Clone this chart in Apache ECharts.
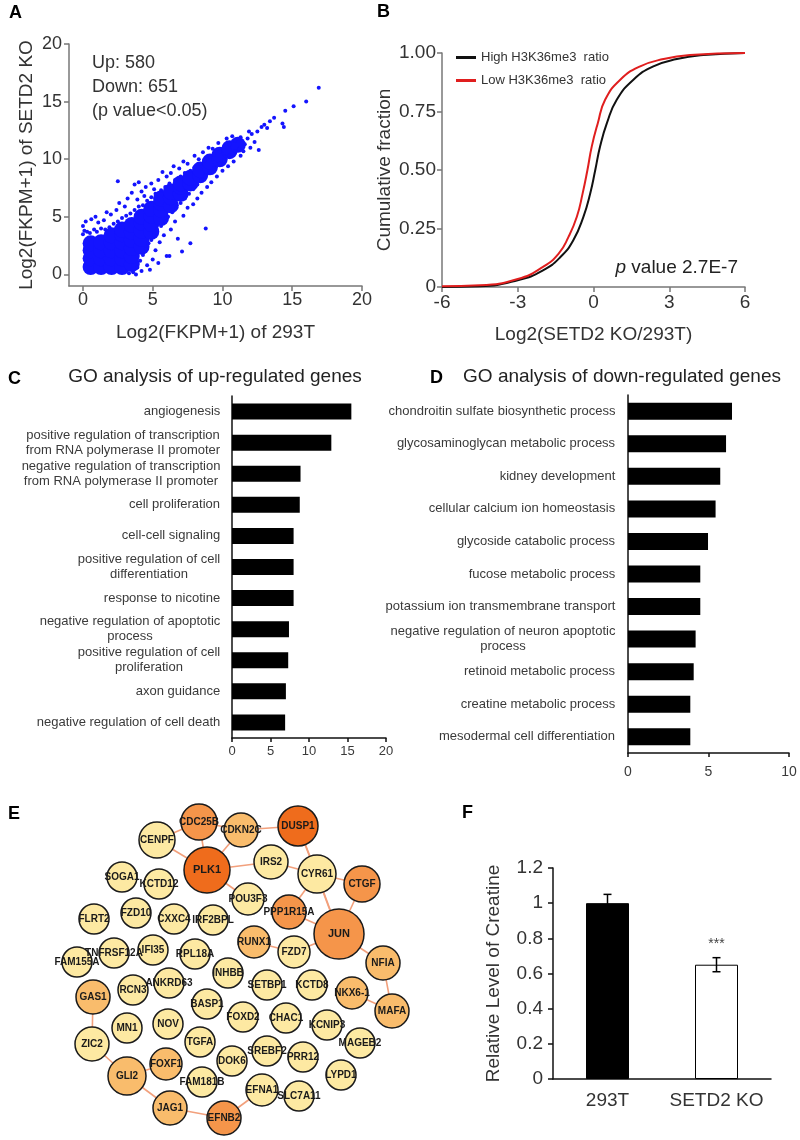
<!DOCTYPE html>
<html><head><meta charset="utf-8">
<script src="https://cdn.jsdelivr.net/npm/echarts@6/dist/echarts.min.js"></script>
<style>html,body{margin:0;padding:0;background:#fff}#c{width:800px;height:1140px}</style>
</head><body><div id="c"></div>
<script>
// ---------- Panel A: scatter ----------
const aTicks = [0, 5, 10, 15, 20];
const denseCore = [
  [0.55,0.65],[0.55,1.4],[0.55,2.1],[0.55,2.7],
  [1.3,0.65],[1.3,1.4],[1.3,2.1],[1.3,2.8],
  [2.05,0.65],[2.05,1.4],[2.05,2.1],[2.05,2.8],[2.05,3.4],
  [2.8,0.65],[2.8,1.4],[2.8,2.1],[2.8,2.8],[2.8,3.5],[2.8,3.9],
  [3.5,0.9],[3.5,1.6],[3.5,2.3],[3.5,3.0],[3.5,3.7],[3.5,4.3],
  [4.2,2.4],[4.2,3.1],[4.2,3.8],[4.2,4.5],[4.2,5.0],
  [4.9,3.7],[4.9,4.4],[4.9,5.1],[4.9,5.7],
  [5.6,4.9],[5.6,5.6],[5.6,6.2],[5.6,6.6],
  [6.3,6.0],[6.3,6.7],[6.3,7.2],
  [7.0,7.0],[7.0,7.6],[7.0,7.9],
  [7.7,7.9],[7.7,8.4],
  [8.4,8.6],[8.4,9.1],
  [9.1,9.3],[9.1,9.8],
  [9.8,10.0],[9.8,10.4],
  [10.5,10.7],[10.5,10.95],
  [11.1,11.25]
];
const sparsePoints = [
  [0.0,3.5],[0.1,3.8],[0.0,4.2],[0.3,3.7],[0.5,3.6],[0.8,3.9],[1.0,3.7],[1.3,4.0],[1.6,3.9],[1.9,4.1],
  [2.2,4.4],[2.5,4.6],[2.8,4.9],[3.1,5.1],[3.4,5.3],[3.7,5.6],[4.0,5.9],[4.3,6.0],[4.6,6.4],[4.9,6.7],
  [5.2,7.0],[5.6,7.3],[5.9,7.6],[6.2,7.9],[6.6,8.2],[7.0,8.5],[7.3,8.8],[7.7,9.0],[8.0,9.3],[8.4,9.6],
  [8.7,9.9],[9.1,10.2],[9.4,10.4],[9.8,10.7],[10.1,11.0],[10.5,11.3],[10.9,11.6],
  [0.2,4.6],[0.6,4.8],[1.1,4.5],[1.5,4.7],[2.0,5.2],[2.4,5.6],[2.6,6.2],[2.5,8.1],[3.0,5.9],[3.2,6.6],
  [3.5,7.1],[3.9,6.5],[4.2,7.2],[4.5,7.6],[4.4,6.8],[4.9,7.9],[5.1,7.4],[5.4,8.2],[5.7,8.9],[6.0,8.5],
  [6.3,8.8],[6.5,9.4],[6.9,9.2],[7.2,9.8],[7.5,9.6],[8.0,10.3],[8.3,10.0],[8.6,10.6],[9.0,11.0],[9.3,10.9],
  [9.7,11.4],[10.3,11.8],[10.7,12.0],[3.7,7.8],[4.0,8.0],[1.7,5.4],[0.9,5.0],
  [3.3,0.1],[3.6,0.2],[3.9,0.6],[4.1,1.2],[4.3,1.7],[4.5,2.2],[4.7,2.7],[4.9,3.0],[5.1,3.4],[5.3,3.9],
  [5.6,4.2],[5.9,4.6],[6.1,5.0],[6.4,5.4],[6.7,5.8],[7.0,6.2],[7.3,6.6],[7.6,7.0],[7.9,7.4],[8.2,7.8],
  [8.5,8.2],[8.8,8.6],[9.1,8.9],[9.4,9.2],[9.8,9.6],[10.1,9.9],[10.5,10.3],[10.9,10.7],[11.2,10.9],
  [3.8,0.0],[4.2,0.3],[4.6,0.8],[5.0,1.3],[5.2,2.1],[5.5,2.8],[5.8,3.4],[6.0,1.6],[6.2,1.6],[6.3,3.9],
  [6.6,4.6],[6.8,3.1],[7.1,2.0],[7.2,5.1],[7.5,5.8],[7.7,2.7],[7.9,6.1],[8.2,6.6],[8.5,7.1],[8.8,4.0],
  [8.9,7.6],[9.2,8.0],[9.6,8.5],[10.0,9.0],[10.4,9.4],[10.8,9.8],[11.3,10.3],[5.4,1.0],[4.8,0.4],
  [11.3,11.9],[11.6,11.3],[11.8,11.8],[12.1,12.2],[12.3,11.5],[12.5,12.4],[12.0,11.0],[12.6,10.8],[12.8,12.8],
  [13.0,13.0],[13.2,12.7],[13.4,13.3],[13.7,13.6],[14.3,13.1],[14.4,12.8],[14.5,14.2],[15.1,14.6],[16.0,15.0],
  [16.9,16.2],[11.5,10.7],[11.9,12.4]
];
const aNote = ['Up: 580', 'Down: 651', '(p value<0.05)'];

// ---------- Panel B: cumulative distributions ----------
const cdfHighX = [-6,-4.5,-3.0,-2.0,-1.3,-0.8,-0.4,-0.13,0.07,0.26,0.53,0.92,1.58,2.37,3.3,4.35,6];
const cdfHighY = [0,0.003,0.029,0.071,0.129,0.2,0.3,0.4,0.5,0.6,0.7,0.8,0.886,0.943,0.974,0.991,1.0];
const cdfLowX  = [-6,-4.5,-3.0,-2.0,-1.38,-0.99,-0.66,-0.43,-0.24,-0.07,0.17,0.46,1.06,1.85,2.77,3.82,6];
const cdfLowY  = [0.003,0.007,0.034,0.086,0.143,0.214,0.3,0.4,0.5,0.6,0.7,0.8,0.886,0.943,0.974,0.991,1.0];
const bNames = ['High H3K36me3  ratio', 'Low H3K36me3  ratio'];

// ---------- Panel C / D: GO terms ----------
const goUpTerms = [
  'angiogenesis',
  'positive regulation of transcription\nfrom RNA polymerase II promoter',
  'negative regulation of transcription\nfrom RNA polymerase II promoter',
  'cell proliferation',
  'cell-cell signaling',
  'positive regulation of cell\ndifferentiation',
  'response to nicotine',
  'negative regulation of apoptotic\nprocess',
  'positive regulation of cell\nproliferation',
  'axon guidance',
  'negative regulation of cell death'
];
const goUpValues = [15.5, 12.9, 8.9, 8.8, 8.0, 8.0, 8.0, 7.4, 7.3, 7.0, 6.9];
const goDownTerms = [
  'chondroitin sulfate biosynthetic process',
  'glycosaminoglycan metabolic process',
  'kidney development',
  'cellular calcium ion homeostasis',
  'glycoside catabolic process',
  'fucose metabolic process',
  'potassium ion transmembrane transport',
  'negative regulation of neuron apoptotic\nprocess',
  'retinoid metabolic process',
  'creatine metabolic process',
  'mesodermal cell differentiation'
];
const goDownValues = [6.46, 6.09, 5.73, 5.44, 4.97, 4.49, 4.49, 4.20, 4.08, 3.87, 3.87];

// ---------- Panel E: gene network ----------
const geneNames = ['CDC25B','CDKN2C','CENPF','PLK1','IRS2','DUSP1','CYR61','CTGF','SOGA1','KCTD12',
  'POU3F3','PPP1R15A','JUN','FLRT2','FZD10','CXXC4','IRF2BPL','RUNX1','FZD7','NFIA',
  'FAM155A','TNFRSF12A','IFI35','RPL18A','INHBB','SETBP1','KCTD8','NKX6-1','MAFA','GAS1',
  'RCN3','ANKRD63','BASP1','FOXD2','CHAC1','KCNIP3','MN1','NOV','ZIC2','TGFA',
  'SREBF2','PRR12','MAGEB2','DOK6','FOXF1','GLI2','FAM181B','LYPD1','EFNA1','SLC7A11','JAG1','EFNB2'];
const geneX = [139,181,97,147,211,238,257,302,62,99, 188,229,279,34,76,114,153,194,234,323,
  17,54,93,135,168,207,252,292,332,33, 73,109,147,183,226,267,67,108,32,140,
  207,243,300,172,106,67,142,281,202,239,110,164];
const geneY = [22,30,40,70,62,26,74,84,77,84, 99,112,134,119,113,119,120,142,152,163,
  162,153,150,154,173,185,185,193,211,197, 190,183,204,217,218,225,228,224,244,242,
  251,257,243,261,264,276,282,275,290,296,308,318];
const geneScore = [3,2,3,8,2,5,4,3,0,0, 1,2,10,0,0,0,0,1,1,2,
  0,0,0,0,0,0,0,1,2,2, 0,0,0,0,0,0,0,0,2,0,
  0,0,0,0,1,4,0,0,1,0,2,2];
const geneLevel = [2,1,0,3,0,3,0,2,0,0, 0,2,2,0,0,0,0,1,0,1,
  0,0,0,0,0,0,0,1,1,1, 0,0,0,0,0,0,0,0,0,0,
  0,0,0,0,1,1,0,0,0,0,1,2];
const geneLinks = [
  ['CENPF','CDC25B'],['CENPF','PLK1'],['CDC25B','PLK1'],['CDC25B','CDKN2C'],['CDKN2C','PLK1'],
  ['CDKN2C','DUSP1'],['PLK1','IRS2'],['PLK1','POU3F3'],['IRS2','CYR61'],['DUSP1','CYR61'],
  ['DUSP1','JUN'],['CYR61','CTGF'],['CYR61','JUN'],['CYR61','PPP1R15A'],['CTGF','JUN'],
  ['PPP1R15A','JUN'],['JUN','FZD7'],['JUN','NFIA'],['NFIA','MAFA'],['NKX6-1','MAFA'],
  ['RUNX1','FZD7'],['GAS1','ZIC2'],['ZIC2','GLI2'],['GLI2','FOXF1'],['GLI2','JAG1'],
  ['JAG1','EFNB2'],['EFNB2','EFNA1']
];

// ---------- Panel F: creatine ----------
const creatineCats = ['293T', 'SETD2 KO'];
const creatineMean = [1.0, 0.65];
const creatineErr = [0.05, 0.04];
const creatineSig = ['', '***'];

// ================= styles / build =================
const FONT = 'Liberation Sans';
const levelColors = ['#fde9a2', '#f9bc6c', '#f5954a', '#ef6c1c'];
const goLabelColor = '#3a3a3a';

const mctx = document.createElement('canvas').getContext('2d');
mctx.font = '13px "' + FONT + '"';
function richFor(terms) {
  const rich = {};
  terms.forEach((t, i) => {
    const w = Math.max.apply(null, t.split('\n').map(s => mctx.measureText(s).width));
    rich['t' + i] = { width: Math.ceil(w) + 1, align: 'center', fontSize: 13, lineHeight: 15,
      color: goLabelColor, fontFamily: FONT };
  });
  return rich;
}
function richFormatter(v, i) {
  return v.split('\n').map(s => '{t' + i + '|' + s + '}').join('\n');
}

const axisGray = { color: '#777', width: 1.5 };
const axisBlack = { color: '#111', width: 1.5 };

const chart = echarts.init(document.getElementById('c'), null, { renderer: 'canvas', width: 800, height: 1140 });

const option = {
  animation: false,
  backgroundColor: '#fff',
  textStyle: { fontFamily: FONT },
  grid: [
    { left: 69, top: 44, width: 293, height: 242, outerBoundsMode: 'none' },
    { left: 442, top: 53, width: 303, height: 234, outerBoundsMode: 'none' },
    { left: 232, top: 396, width: 154, height: 342, outerBoundsMode: 'none' },
    { left: 628, top: 395, width: 161, height: 358, outerBoundsMode: 'none' },
    { left: 60, top: 800, width: 340, height: 330, outerBoundsMode: 'none' },
    { left: 553, top: 868, width: 218, height: 211, outerBoundsMode: 'none' }
  ],
  xAxis: [
    { gridIndex: 0, type: 'value', min: -1, max: 20, splitLine: { show: false },
      axisLine: { onZero: false, lineStyle: axisGray },
      axisTick: { customValues: aTicks, length: 5, lineStyle: axisGray },
      axisLabel: { customValues: aTicks, fontSize: 18, color: '#333', margin: 5 },
      name: 'Log2(FKPM+1) of 293T', nameLocation: 'middle', nameGap: 37,
      nameTextStyle: { fontSize: 19, color: '#333' } },
    { gridIndex: 1, type: 'value', min: -6, max: 6, interval: 3, splitLine: { show: false },
      axisLine: { onZero: false, lineStyle: axisGray },
      axisTick: { length: 5, lineStyle: axisGray },
      axisLabel: { fontSize: 19, color: '#333', margin: 6 },
      name: 'Log2(SETD2 KO/293T)', nameLocation: 'middle', nameGap: 38,
      nameTextStyle: { fontSize: 19, color: '#333' } },
    { gridIndex: 2, type: 'value', min: 0, max: 20, interval: 5, splitLine: { show: false },
      axisLine: { show: true, onZero: false, lineStyle: axisBlack },
      axisTick: { show: true, length: 4, lineStyle: axisBlack },
      axisLabel: { fontSize: 13, color: goLabelColor, margin: 7 } },
    { gridIndex: 3, type: 'value', min: 0, max: 10, interval: 5, splitLine: { show: false },
      axisLine: { show: true, onZero: false, lineStyle: axisBlack },
      axisTick: { show: true, length: 4, lineStyle: axisBlack },
      axisLabel: { fontSize: 14, color: goLabelColor, margin: 12 } },
    { gridIndex: 4, type: 'value', min: 0, max: 340, show: false },
    { gridIndex: 5, type: 'category', data: creatineCats,
      axisLine: { onZero: false, lineStyle: axisBlack },
      axisTick: { alignWithLabel: false, length: 5, lineStyle: axisBlack, interval: 0 },
      axisLabel: { fontSize: 19, color: '#333', margin: 12, interval: 0 } }
  ],
  yAxis: [
    { gridIndex: 0, type: 'value', min: -1, max: 20, splitLine: { show: false },
      axisLine: { show: true, onZero: false, lineStyle: axisGray },
      axisTick: { show: true, customValues: aTicks, length: 5, lineStyle: axisGray },
      axisLabel: { customValues: aTicks, fontSize: 18, color: '#333', margin: 7 },
      name: 'Log2(FKPM+1) of SETD2 KO', nameLocation: 'middle', nameGap: 33,
      nameTextStyle: { fontSize: 19, color: '#333' } },
    { gridIndex: 1, type: 'value', min: 0, max: 1, interval: 0.25, splitLine: { show: false },
      axisLine: { show: true, onZero: false, lineStyle: axisGray },
      axisTick: { show: true, length: 5, lineStyle: axisGray },
      axisLabel: { fontSize: 19, color: '#333', margin: 6,
        formatter: v => v === 0 ? '0' : v.toFixed(2) },
      name: 'Cumulative fraction', nameLocation: 'middle', nameGap: 48,
      nameTextStyle: { fontSize: 19, color: '#333' } },
    { gridIndex: 2, type: 'category', inverse: true, data: goUpTerms,
      axisLine: { onZero: false, lineStyle: axisBlack },
      axisTick: { alignWithLabel: false, length: 4, lineStyle: axisBlack },
      axisLabel: { margin: 11, formatter: richFormatter, rich: richFor(goUpTerms), interval: 0 } },
    { gridIndex: 3, type: 'category', inverse: true, data: goDownTerms,
      axisLine: { onZero: false, lineStyle: axisBlack },
      axisTick: { alignWithLabel: false, length: 4, lineStyle: axisBlack },
      axisLabel: { margin: 12, formatter: richFormatter, rich: richFor(goDownTerms), interval: 0 } },
    { gridIndex: 4, type: 'value', min: 0, max: 330, inverse: true, show: false },
    { gridIndex: 5, type: 'value', min: 0, max: 1.2, interval: 0.2, splitLine: { show: false },
      axisLine: { show: true, onZero: false, lineStyle: axisBlack },
      axisTick: { show: true, length: 5, lineStyle: axisBlack },
      axisLabel: { fontSize: 19, color: '#333', margin: 10,
        formatter: v => String(Math.round(v * 10) / 10) },
      name: 'Relative Level of Creatine', nameLocation: 'middle', nameGap: 50,
      nameTextStyle: { fontSize: 19, color: '#333' } }
  ],
  legend: {
    data: bNames, left: 456, top: 51, orient: 'vertical', itemGap: 10,
    itemWidth: 20, itemHeight: 3, icon: 'rect', padding: 0,
    textStyle: { fontSize: 13, color: '#333' }
  },
  series: [
    { type: 'scatter', xAxisIndex: 0, yAxisIndex: 0, data: denseCore, symbolSize: 16,
      itemStyle: { color: '#1414ff', opacity: 1 }, silent: true },
    { type: 'scatter', xAxisIndex: 0, yAxisIndex: 0, data: sparsePoints, symbolSize: 4,
      itemStyle: { color: '#1414ff', opacity: 1 }, silent: true },
    { type: 'line', name: bNames[0], xAxisIndex: 1, yAxisIndex: 1,
      data: cdfHighX.map((x, i) => [x, cdfHighY[i]]), smooth: 0.5,
      symbol: 'none', lineStyle: { color: '#111', width: 2 }, itemStyle: { color: '#111' } },
    { type: 'line', name: bNames[1], xAxisIndex: 1, yAxisIndex: 1,
      data: cdfLowX.map((x, i) => [x, cdfLowY[i]]), smooth: 0.5,
      symbol: 'none', lineStyle: { color: '#e01e1e', width: 2 }, itemStyle: { color: '#e01e1e' } },
    { type: 'bar', xAxisIndex: 2, yAxisIndex: 2, data: goUpValues, barWidth: 16,
      itemStyle: { color: '#000' } },
    { type: 'bar', xAxisIndex: 3, yAxisIndex: 3, data: goDownValues, barWidth: 17,
      itemStyle: { color: '#000' } },
    { type: 'graph', layout: 'none', coordinateSystem: 'cartesian2d', xAxisIndex: 4, yAxisIndex: 4,
      roam: false,
      data: geneNames.map((n, i) => ({
        name: n, value: [geneX[i], geneY[i]], symbolSize: 30 + 2 * geneScore[i],
        itemStyle: { color: levelColors[geneLevel[i]] },
        label: { fontSize: geneScore[i] >= 8 ? 11 : 10 }
      })),
      links: geneLinks.map(l => ({ source: l[0], target: l[1] })),
      itemStyle: { borderColor: '#1a1a1a', borderWidth: 1.5 },
      lineStyle: { color: '#f2a07c', width: 1.6, opacity: 1, curveness: 0 },
      label: { show: true, position: 'inside', fontSize: 10, fontWeight: 'bold', color: '#1a1a1a',
        fontFamily: FONT },
      emphasis: { disabled: true } },
    { type: 'bar', xAxisIndex: 5, yAxisIndex: 5, barWidth: 43,
      data: creatineMean.map((v, i) => ({ value: v,
        itemStyle: { color: i === 0 ? '#000' : '#fff', borderColor: '#000', borderWidth: 1 } })) },
    { type: 'custom', xAxisIndex: 5, yAxisIndex: 5, z: 5,
      data: creatineMean.map((v, i) => [i, v, creatineErr[i]]),
      renderItem: function (params, api) {
        const i = api.value(0), m = api.value(1), e = api.value(2);
        const top = api.coord([i, m + e]);
        const bot = api.coord([i, m - e]);
        const hw = 4;
        const st = { stroke: '#000', lineWidth: 1.5 };
        const children = [
          { type: 'line', shape: { x1: top[0], y1: top[1], x2: bot[0], y2: bot[1] }, style: st },
          { type: 'line', shape: { x1: top[0] - hw, y1: top[1], x2: top[0] + hw, y2: top[1] }, style: st },
          { type: 'line', shape: { x1: bot[0] - hw, y1: bot[1], x2: bot[0] + hw, y2: bot[1] }, style: st }
        ];
        if (creatineSig[i]) {
          children.push({ type: 'text', x: top[0], y: top[1] - 14,
            style: { text: creatineSig[i], fill: '#444', font: '14px "' + FONT + '"',
              textAlign: 'center', textVerticalAlign: 'middle' } });
        }
        return { type: 'group', children: children };
      } }
  ],
  graphic: [
    { type: 'text', left: 9, top: 4, style: { text: 'A', font: 'bold 18px "' + FONT + '"', fill: '#000' } },
    { type: 'text', left: 377, top: 3, style: { text: 'B', font: 'bold 18px "' + FONT + '"', fill: '#000' } },
    { type: 'text', left: 8, top: 370, style: { text: 'C', font: 'bold 18px "' + FONT + '"', fill: '#000' } },
    { type: 'text', left: 430, top: 369, style: { text: 'D', font: 'bold 18px "' + FONT + '"', fill: '#000' } },
    { type: 'text', left: 8, top: 805, style: { text: 'E', font: 'bold 18px "' + FONT + '"', fill: '#000' } },
    { type: 'text', left: 462, top: 804, style: { text: 'F', font: 'bold 18px "' + FONT + '"', fill: '#000' } },
    { type: 'text', x: 215, y: 377, style: { text: 'GO analysis of up-regulated genes',
      font: '19px "' + FONT + '"', fill: '#222', textAlign: 'center', textVerticalAlign: 'middle' } },
    { type: 'text', x: 622, y: 377, style: { text: 'GO analysis of down-regulated genes',
      font: '19px "' + FONT + '"', fill: '#222', textAlign: 'center', textVerticalAlign: 'middle' } },
    { type: 'text', x: 92, y: 51, style: { text: aNote.join('\n'), font: '18px "' + FONT + '"',
      lineHeight: 24, fill: '#333' } },
    { type: 'text', x: 738, y: 268, style: { text: '{i|p} value 2.7E-7',
      font: '19px "' + FONT + '"', fill: '#222', textAlign: 'right', textVerticalAlign: 'middle',
      rich: { i: { fontStyle: 'italic', fontSize: 19, fontFamily: FONT } } } }
  ]
};
chart.setOption(option);
</script></body></html>
